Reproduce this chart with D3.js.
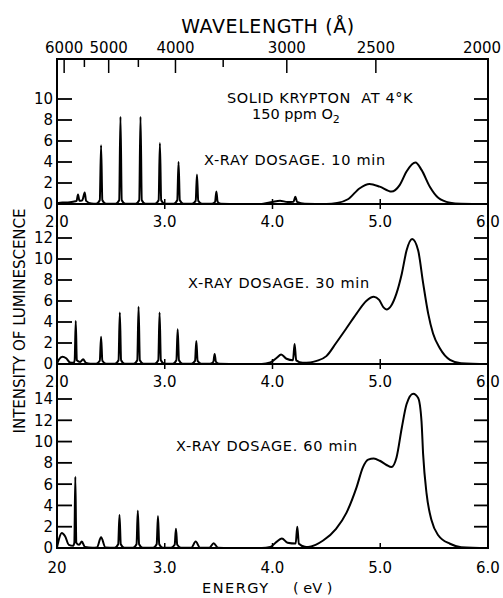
<!doctype html>
<html lang="en">
<head>
<meta charset="utf-8">
<title>Solid krypton luminescence</title>
<script src="https://cdn.jsdelivr.net/npm/d3@7"></script>
<style>
  body { margin: 0; background: #fff; }
  svg text { font-family: "DejaVu Sans", sans-serif; fill: #000; }
</style>
</head>
<body>
<svg id="chart" width="503" height="598"></svg>
<script>

// energy axis (eV) and its labels, one label set per panel
var energyTicks = [2, 3, 4, 5, 6];
var energyLabelsTop = ["2.0", "3.0", "4.0", "5.0", "6.0"];
var energyLabelsMid = ["2.0", "3.0", "4.0", "5.0", "6.0"];
var energyLabelsBot = ["20", "3.0", "4.0", "5.0", "6.0"];

// wavelength axis (Å) on top
var wlMajor = [6000, 5000, 4000, 3000, 2500];
var wlMinor = [5500, 4500, 3500];
var wlEndLabel = "2000";

// intensity ticks per panel
var ticks10 = [0, 2, 4, 6, 8, 10];
var ticks30 = [0, 2, 4, 6, 8, 10, 12];
var ticks60 = [0, 2, 4, 6, 8, 10, 12, 14];

// spectra: [energy eV, intensity]
var dose10 = [
  [2.0, 0.08], [2.05, 0.15], [2.1, 0.15], [2.15, 0.22], [2.182, 0.3], [2.195, 0.9], [2.208, 0.3],
  [2.235, 0.35], [2.257, 1.1], [2.27, 0.3], [2.32, 0.05],
  [2.364, 0.03], [2.397, 0.35], [2.409, 5.6], [2.421, 0.35], [2.454, 0.03],
  [2.544, 0.03], [2.577, 0.35], [2.589, 8.3], [2.601, 0.35], [2.634, 0.03],
  [2.73, 0.03], [2.763, 0.35], [2.775, 8.3], [2.787, 0.35], [2.82, 0.03],
  [2.91, 0.03], [2.943, 0.35], [2.955, 5.8], [2.967, 0.35], [3.0, 0.03],
  [3.083, 0.03], [3.116, 0.35], [3.128, 4.0], [3.14, 0.35], [3.173, 0.03],
  [3.254, 0.03], [3.287, 0.3], [3.299, 2.8], [3.311, 0.3], [3.344, 0.03],
  [3.434, 0.02], [3.467, 0.2], [3.479, 1.2], [3.491, 0.2], [3.524, 0.02],
  [3.6, 0.01], [3.9, 0.01], [4.0, 0.2], [4.07, 0.3], [4.14, 0.2], [4.195, 0.22],
  [4.212, 0.7], [4.228, 0.2], [4.3, 0.03], [4.5, 0.01], [4.6, 0.1], [4.7, 0.45],
  [4.81, 1.5], [4.9, 1.9], [4.995, 1.65], [5.104, 1.18], [5.18, 1.8], [5.244, 3.1],
  [5.327, 3.95], [5.383, 3.25], [5.46, 1.65], [5.538, 0.6], [5.647, 0.13], [5.75, 0.03], [6.0, 0.0]
];

var dose30 = [
  [2.0, 0.05], [2.02, 0.45], [2.05, 0.7], [2.085, 0.55], [2.12, 0.15], [2.155, 0.12], [2.164, 0.35],
  [2.174, 4.1], [2.184, 0.35], [2.215, 0.2], [2.242, 0.45], [2.27, 0.1], [2.31, 0.02],
  [2.364, 0.02], [2.397, 0.3], [2.409, 2.6], [2.421, 0.3], [2.454, 0.02],
  [2.538, 0.03], [2.571, 0.35], [2.583, 4.9], [2.595, 0.35], [2.628, 0.03],
  [2.712, 0.03], [2.745, 0.35], [2.757, 5.45], [2.769, 0.35], [2.802, 0.03],
  [2.907, 0.03], [2.94, 0.35], [2.952, 4.9], [2.964, 0.35], [2.997, 0.03],
  [3.075, 0.03], [3.108, 0.35], [3.12, 3.3], [3.132, 0.35], [3.165, 0.03],
  [3.248, 0.03], [3.281, 0.3], [3.293, 2.2], [3.305, 0.3], [3.338, 0.03],
  [3.418, 0.02], [3.451, 0.2], [3.463, 0.95], [3.475, 0.2], [3.508, 0.02],
  [3.6, 0.01], [3.9, 0.01], [3.98, 0.15], [4.04, 0.6], [4.08, 0.9], [4.13, 0.5], [4.19, 0.35],
  [4.205, 1.9], [4.22, 0.35], [4.28, 0.12], [4.35, 0.15], [4.41, 0.3], [4.5, 0.75],
  [4.59, 2.0], [4.686, 3.4], [4.78, 4.8], [4.87, 6.0], [4.94, 6.4], [4.99, 6.1], [5.03, 5.4],
  [5.058, 5.2], [5.104, 5.6], [5.15, 6.7], [5.2, 8.6], [5.244, 10.8], [5.296, 11.9],
  [5.352, 10.8], [5.398, 7.7], [5.445, 4.8], [5.49, 2.9], [5.553, 1.5], [5.647, 0.4], [5.75, 0.08], [6.0, 0.0]
];

var dose60 = [
  [2.0, 0.05], [2.02, 0.9], [2.044, 1.4], [2.075, 1.1], [2.11, 0.3], [2.15, 0.2], [2.161, 0.5],
  [2.17, 6.7], [2.179, 0.5], [2.205, 0.3], [2.23, 0.6], [2.26, 0.1], [2.33, 0.02],
  [2.37, 0.05], [2.409, 1.0], [2.45, 0.05],
  [2.535, 0.03], [2.568, 0.35], [2.58, 3.1], [2.592, 0.35], [2.625, 0.03],
  [2.705, 0.03], [2.738, 0.35], [2.75, 3.5], [2.762, 0.35], [2.795, 0.03],
  [2.892, 0.03], [2.925, 0.35], [2.937, 3.0], [2.949, 0.35], [2.982, 0.03],
  [3.059, 0.03], [3.092, 0.3], [3.104, 1.8], [3.116, 0.3], [3.149, 0.03],
  [3.247, 0.03], [3.287, 0.6], [3.327, 0.03],
  [3.414, 0.03], [3.454, 0.45], [3.494, 0.03],
  [3.6, 0.01], [3.9, 0.01], [3.98, 0.1], [4.04, 0.6], [4.087, 0.9], [4.14, 0.5], [4.215, 0.42],
  [4.23, 2.0], [4.245, 0.4], [4.3, 0.12], [4.33, 0.1], [4.4, 0.3], [4.47, 0.7], [4.59, 1.8],
  [4.686, 3.3], [4.78, 5.7], [4.84, 7.6], [4.888, 8.3], [4.94, 8.4], [4.995, 8.2], [5.058, 7.8],
  [5.104, 7.6], [5.151, 8.5], [5.2, 11.3], [5.244, 13.5], [5.306, 14.5], [5.352, 14.1],
  [5.383, 11.9], [5.398, 8.8], [5.43, 5.1], [5.476, 2.6], [5.538, 1.2], [5.647, 0.4], [5.75, 0.08], [6.0, 0.0]
];

var svg = d3.select("#chart");

var x = d3.scaleLinear().domain([2, 6]).range([57, 488]);

// three stacked panels sharing the energy axis
var panels = [
  { data: dose10, ticks: ticks10, labels: energyLabelsTop, top: 59,
    y: d3.scaleLinear().domain([0, 10]).range([204, 99]),
    title: "X-RAY DOSAGE. 10 min", tx: 204, ty: 165, lblGap: 23 },
  { data: dose30, ticks: ticks30, labels: energyLabelsMid, top: 204,
    y: d3.scaleLinear().domain([0, 12]).range([364, 238]),
    title: "X-RAY DOSAGE. 30 min", tx: 188, ty: 288, lblGap: 23 },
  { data: dose60, ticks: ticks60, labels: energyLabelsBot, top: 364,
    y: d3.scaleLinear().domain([0, 14]).range([548, 399]),
    title: "X-RAY DOSAGE. 60 min", tx: 176, ty: 451, lblGap: 25 }
];

var line = d3.line().curve(d3.curveMonotoneX);

panels.forEach(function (p, k) {
  var g = svg.append("g");
  var base = p.y(0);

  // frame
  g.append("rect")
    .attr("x", x(2)).attr("y", p.top)
    .attr("width", x(6) - x(2)).attr("height", base - p.top)
    .attr("fill", "none").attr("stroke", "#000").attr("stroke-width", 2);

  // intensity ticks, both sides, pointing inward
  var yt = p.ticks.filter(function (d) { return d > 0; });
  g.selectAll("line.yl").data(yt).join("line")
    .attr("x1", x(2)).attr("x2", x(2) + 15)
    .attr("y1", function (d) { return p.y(d); }).attr("y2", function (d) { return p.y(d); })
    .attr("stroke", "#000").attr("stroke-width", 1.8);
  g.selectAll("line.yr").data(yt).join("line")
    .attr("x1", x(6)).attr("x2", x(6) - 14)
    .attr("y1", function (d) { return p.y(d); }).attr("y2", function (d) { return p.y(d); })
    .attr("stroke", "#000").attr("stroke-width", 1.8);

  g.selectAll("text.yt").data(p.ticks).join("text")
    .attr("x", x(2) - 4)
    .attr("y", function (d) { return p.y(d); })
    .attr("dy", "0.36em")
    .attr("text-anchor", "end")
    .attr("font-size", 15)
    .text(function (d) { return d; });

  // energy ticks on bottom (up) and top (down) edges
  var xt = energyTicks.slice(1, 4);
  g.selectAll("line.xb").data(xt).join("line")
    .attr("x1", function (d) { return x(d); }).attr("x2", function (d) { return x(d); })
    .attr("y1", base).attr("y2", base - 5)
    .attr("stroke", "#000").attr("stroke-width", 1.5);
  if (k > 0) {
    g.selectAll("line.xt").data(xt).join("line")
      .attr("x1", function (d) { return x(d); }).attr("x2", function (d) { return x(d); })
      .attr("y1", p.top).attr("y2", p.top + 5)
      .attr("stroke", "#000").attr("stroke-width", 1.5);
  }

  g.selectAll("text.xl").data(energyTicks).join("text")
    .attr("x", function (d) { return x(d); })
    .attr("y", base + p.lblGap)
    .attr("text-anchor", "middle")
    .attr("font-size", 15)
    .text(function (d, i) { return p.labels[i]; });

  // spectrum
  g.append("path")
    .attr("d", line(p.data.map(function (d) { return [x(d[0]), p.y(d[1])]; })))
    .attr("fill", "none")
    .attr("stroke", "#000")
    .attr("stroke-width", 2)
    .attr("stroke-linejoin", "round");

  g.append("text")
    .attr("x", p.tx).attr("y", p.ty)
    .attr("font-size", 14.5)
    .attr("letter-spacing", 0.7)
    .text(p.title);
});

// wavelength axis along the top frame
var topY = panels[0].top;
svg.selectAll("line.wmaj").data(wlMajor).join("line")
  .attr("x1", function (d) { return x(12398 / d); }).attr("x2", function (d) { return x(12398 / d); })
  .attr("y1", topY).attr("y2", topY + 14)
  .attr("stroke", "#000").attr("stroke-width", 1.5);
svg.selectAll("line.wmin").data(wlMinor).join("line")
  .attr("x1", function (d) { return x(12398 / d); }).attr("x2", function (d) { return x(12398 / d); })
  .attr("y1", topY).attr("y2", topY + 8)
  .attr("stroke", "#000").attr("stroke-width", 1.5);
svg.selectAll("text.wl").data(wlMajor).join("text")
  .attr("x", function (d) { return x(12398 / d); })
  .attr("y", topY - 6)
  .attr("text-anchor", "middle")
  .attr("font-size", 15)
  .text(function (d) { return d; });
svg.append("text")
  .attr("x", x(6) - 6).attr("y", topY - 6)
  .attr("text-anchor", "middle")
  .attr("font-size", 15)
  .text(wlEndLabel);

svg.append("text")
  .attr("x", 268).attr("y", 33)
  .attr("text-anchor", "middle")
  .attr("font-size", 19)
  .attr("letter-spacing", 0.6)
  .text("WAVELENGTH (Å)");

// sample annotation
svg.append("text")
  .attr("x", 227).attr("y", 103)
  .attr("font-size", 14.5)
  .attr("letter-spacing", 0.6)
  .attr("xml:space", "preserve")
  .text("SOLID KRYPTON  AT 4°K");
var o2 = svg.append("text")
  .attr("x", 252).attr("y", 119)
  .attr("font-size", 14.5);
o2.append("tspan").text("150 ppm O");
o2.append("tspan").attr("dy", 4).attr("font-size", 11).text("2");

// axis titles
svg.append("text")
  .attr("x", 202).attr("y", 593)
  .attr("font-size", 14.5)
  .attr("letter-spacing", 1.5)
  .text("ENERGY");
svg.append("text")
  .attr("x", 293).attr("y", 593)
  .attr("font-size", 14.5)
  .attr("xml:space", "preserve")
  .text("( eV )");

svg.append("text")
  .attr("transform", "translate(25,321) rotate(-90)")
  .attr("text-anchor", "middle")
  .attr("font-size", 15)
  .text("INTENSITY OF LUMINESCENCE");

</script>
</body>
</html>
